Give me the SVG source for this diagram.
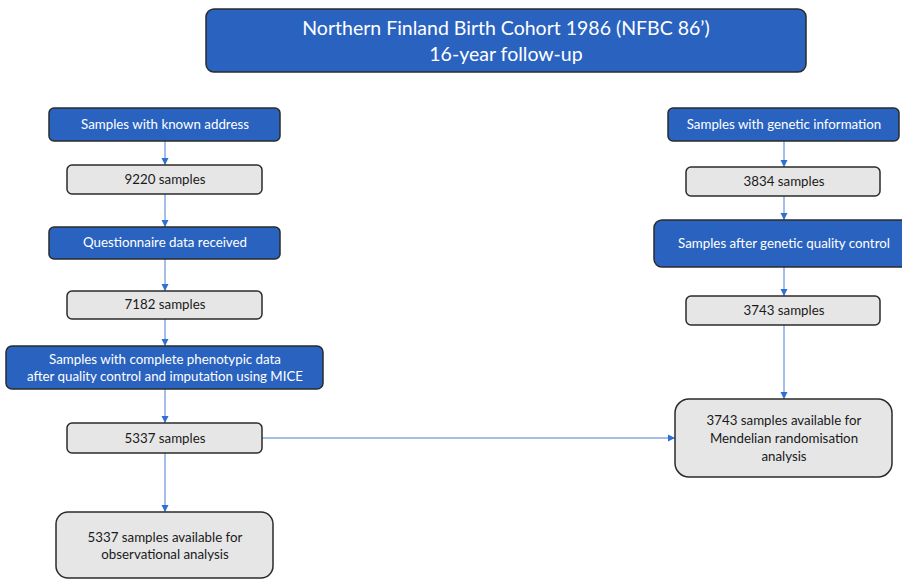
<svg xmlns="http://www.w3.org/2000/svg" width="902" height="579" viewBox="0 0 902 579">
<defs>
<style>
.blue{fill:#2a63bf;stroke:#2b2b2b;stroke-width:1.5}
.grey{fill:#e6e6e6;stroke:#2b2b2b;stroke-width:1.5}
.wt{fill:#ffffff;font-family:Lato,"Liberation Sans",sans-serif;font-size:13.3px;text-anchor:middle}
.bt{fill:#1a1a1a;font-family:Lato,"Liberation Sans",sans-serif;font-size:13.3px;text-anchor:middle}
.title{fill:#ffffff;font-family:Lato,"Liberation Sans",sans-serif;font-size:19.5px;text-anchor:middle}
.con{stroke:#4a7fd6;stroke-width:1;fill:none;marker-end:url(#ah)}
</style>
<marker id="ah" markerWidth="8" markerHeight="8" refX="7" refY="4" orient="auto" markerUnits="userSpaceOnUse">
<path d="M0,0.5 L7,4 L0,7.5 Z" fill="#2f6fd0"/>
</marker>
</defs>
<rect width="902" height="579" fill="#ffffff"/>
<g id="connectors">
<line class="con" x1="165" y1="141" x2="165" y2="165"/>
<line class="con" x1="165" y1="194" x2="165" y2="227"/>
<line class="con" x1="165" y1="259" x2="165" y2="291"/>
<line class="con" x1="165" y1="319" x2="165" y2="346"/>
<line class="con" x1="165" y1="389" x2="165" y2="423"/>
<line class="con" x1="165" y1="453" x2="165" y2="512"/>
<line class="con" x1="262" y1="438" x2="675" y2="438"/>
<line class="con" x1="784" y1="141" x2="784" y2="167"/>
<line class="con" x1="784" y1="196" x2="784" y2="220"/>
<line class="con" x1="784" y1="267" x2="784" y2="296"/>
<line class="con" x1="784" y1="325" x2="784" y2="399"/>
</g>
<g id="title">
<rect class="blue" x="206" y="9" width="600" height="63" rx="8"/>
<text class="title" x="506" y="35">Northern Finland Birth Cohort 1986 (NFBC 86’)</text>
<text class="title" x="506" y="61">16-year follow-up</text>
</g>
<g id="known-address">
<rect class="blue" x="49" y="108" width="231" height="33" rx="5"/>
<text class="wt" x="165" y="129">Samples with known address</text>
</g>
<g id="n9220">
<rect class="grey" x="67" y="165" width="195" height="29" rx="5"/>
<text class="bt" x="165" y="184">9220 samples</text>
</g>
<g id="questionnaire">
<rect class="blue" x="49" y="227" width="231" height="32" rx="5"/>
<text class="wt" x="165" y="247">Questionnaire data received</text>
</g>
<g id="n7182">
<rect class="grey" x="67" y="291" width="195" height="28" rx="5"/>
<text class="bt" x="165" y="309">7182 samples</text>
</g>
<g id="phenotypic">
<rect class="blue" x="6" y="346" width="317" height="43" rx="6"/>
<text class="wt" x="165" y="364">Samples with complete phenotypic data</text>
<text class="wt" x="165" y="381">after quality control and imputation using MICE</text>
</g>
<g id="n5337">
<rect class="grey" x="67" y="423" width="195" height="30" rx="5"/>
<text class="bt" x="165" y="443">5337 samples</text>
</g>
<g id="observational">
<rect class="grey" x="56" y="512" width="217" height="66" rx="12"/>
<text class="bt" x="165" y="542">5337 samples available for</text>
<text class="bt" x="165" y="559">observational analysis</text>
</g>
<g id="genetic-info">
<rect class="blue" x="668" y="108" width="231" height="33" rx="5"/>
<text class="wt" x="784" y="129">Samples with genetic information</text>
</g>
<g id="n3834">
<rect class="grey" x="686" y="167" width="194" height="29" rx="5"/>
<text class="bt" x="784" y="186">3834 samples</text>
</g>
<g id="genetic-qc">
<rect class="blue" x="654" y="220" width="256" height="47" rx="8"/>
<text class="wt" x="784" y="248">Samples after genetic quality control</text>
</g>
<g id="n3743">
<rect class="grey" x="686" y="296" width="194" height="29" rx="5"/>
<text class="bt" x="784" y="315">3743 samples</text>
</g>
<g id="mendelian">
<rect class="grey" x="675" y="399" width="217" height="78" rx="14"/>
<text class="bt" x="784" y="425">3743 samples available for</text>
<text class="bt" x="784" y="443">Mendelian randomisation</text>
<text class="bt" x="784" y="461">analysis</text>
</g>
</svg>
